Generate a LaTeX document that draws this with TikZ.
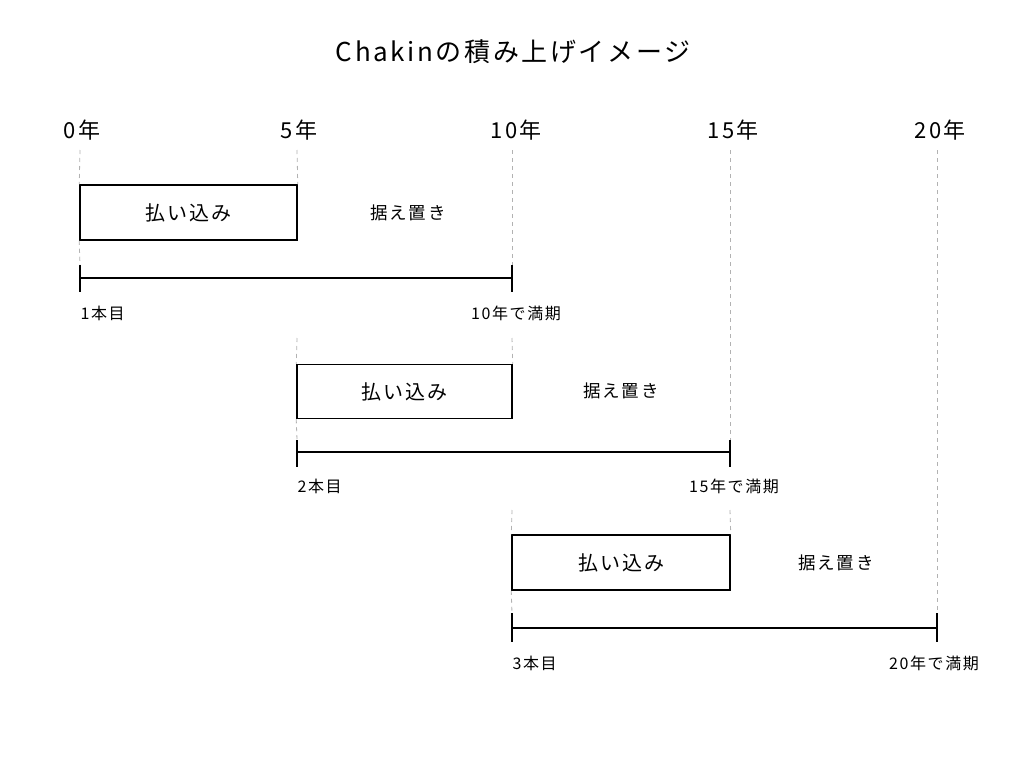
\documentclass[tikz,border=0pt]{standalone}
\usepackage{fontspec}
\setmainfont{Noto Sans CJK JP}
\newfontfamily\spacedjp[LetterSpace=10]{Noto Sans CJK JP}
\begin{document}
\begin{tikzpicture}[x=1pt,y=-1pt,
  every node/.style={font=\spacedjp},
  paybox/.style={draw, line width=1.5pt, inner sep=0pt, font=\spacedjp\fontsize{20}{20}\selectfont},
  defer/.style={font=\spacedjp\fontsize{17.5}{17.5}\selectfont},
  year/.style={font=\spacedjp\fontsize{22}{22}\selectfont},
  lbl/.style={font=\spacedjp\fontsize{16}{16}\selectfont},
  guide/.style={draw=black!30, dash pattern=on 4pt off 4pt, line width=0.8pt},
  bar/.style={line width=1.5pt}]
\fill[white] (0,0) rectangle (1024,768);
\useasboundingbox (0,0) rectangle (1024,768);

\node[font=\spacedjp\fontsize{26}{26}\selectfont] (title) at (513,52) {Chakinの積み上げイメージ};

\node[year] (y0) at (82,130) {0年};
\node[year] (y5) at (299,130) {5年};
\node[year] (y10) at (516,130) {10年};
\node[year] (y15) at (733,130) {15年};
\node[year] (y20) at (940,130) {20年};

% guide tops
\coordinate (g0) at (80,150);
\coordinate (g5) at (297,150);
\coordinate (g10) at (512,150);
\coordinate (g15) at (730,150);
\coordinate (g20) at (937,150);

% row 1
\node[paybox, minimum width=217pt, minimum height=55pt] (p1) at (188.5,212.5) {払い込み};
\node[defer] (d1) at (408,213) {据え置き};
\coordinate (a1) at (80,278);
\coordinate (b1) at (512,278);
\coordinate (a1t) at (80,265); \coordinate (a1b) at (80,292);
\coordinate (b1t) at (512,265); \coordinate (b1b) at (512,292);
\draw[bar] (a1) -- (b1);
\draw[bar] (a1t) -- (a1b);
\draw[bar] (b1t) -- (b1b);
\node[lbl, anchor=west] (s1) at (77,313) {1本目};
\node[lbl] (e1) at (516,313) {10年で満期};

% row 2
\node[paybox, minimum width=215pt, minimum height=54pt] (p2) at (404.5,391.5) {払い込み};
\node[defer] (d2) at (621,391) {据え置き};
\coordinate (a2) at (297,452);
\coordinate (b2) at (730,452);
\coordinate (a2t) at (297,440); \coordinate (a2b) at (297,467);
\coordinate (b2t) at (730,440); \coordinate (b2b) at (730,467);
\draw[bar] (a2) -- (b2);
\draw[bar] (a2t) -- (a2b);
\draw[bar] (b2t) -- (b2b);
\node[lbl, anchor=west] (s2) at (294,486) {2本目};
\node[lbl] (e2) at (734,486) {15年で満期};

% row 3
\node[paybox, minimum width=218pt, minimum height=55pt] (p3) at (621,562.5) {払い込み};
\node[defer] (d3) at (836,563) {据え置き};
\coordinate (a3) at (512,628);
\coordinate (b3) at (937,628);
\coordinate (a3t) at (512,613); \coordinate (a3b) at (512,642);
\coordinate (b3t) at (937,613); \coordinate (b3b) at (937,642);
\draw[bar] (a3) -- (b3);
\draw[bar] (a3t) -- (a3b);
\draw[bar] (b3t) -- (b3b);
\node[lbl, anchor=west] (s3) at (509,663) {3本目};
\node[lbl] (e3) at (934,663) {20年で満期};

% guides
\coordinate (h5) at (297,338);
\coordinate (h10) at (512,338);
\coordinate (k10) at (512,510);
\coordinate (k15) at (730,510);
\draw[guide] (g0) -- (p1.north west);
\draw[guide] (p1.south west) -- (a1t);
\draw[guide] (g5) -- (p1.north east);
\draw[guide] (h5) -- (p2.north west);
\draw[guide] (p2.south west) -- (a2t);
\draw[guide] (g10) -- (b1t);
\draw[guide] (h10) -- (p2.north east);
\draw[guide] (k10) -- (p3.north west);
\draw[guide] (p3.south west) -- (a3t);
\draw[guide] (g15) -- (b2t);
\draw[guide] (k15) -- (p3.north east);
\draw[guide] (g20) -- (b3t);
\end{tikzpicture}
\end{document}
